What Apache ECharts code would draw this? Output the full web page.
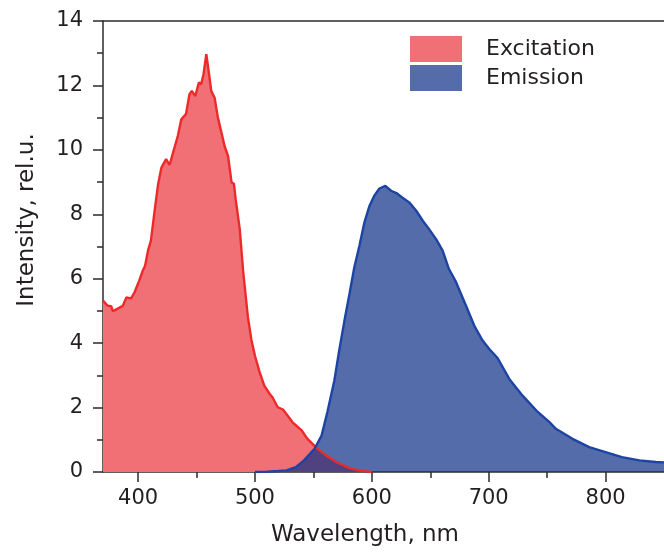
<!DOCTYPE html>
<html>
<head>
<meta charset="utf-8">
<script src="https://cdn.jsdelivr.net/npm/echarts@6/dist/echarts.min.js"></script>
<style>
  html, body { margin: 0; padding: 0; background: #fff; }
  #chart { width: 664px; height: 552px; }
</style>
</head>
<body>
<div id="chart"></div>
<script>
// excitation spectrum (nm, rel.u.)
var excitationNm = [370, 374, 377, 378.5, 381, 387, 390, 394, 397, 401, 404, 406, 408.5, 411, 414, 417,
    420, 424, 427, 430, 434, 437, 441, 444, 446, 449, 452, 454, 456, 458.4, 460.6, 462.6, 465.5,
    468.3, 471, 474, 477, 480, 482, 483.5, 487, 490, 494, 497, 500, 504, 508, 512.5, 515, 519.5,
    524, 528, 532, 540, 545, 552, 561, 569.5, 581, 589, 600];
var excitationVal = [5.32, 5.16, 5.15, 4.99, 5.04, 5.16, 5.42, 5.39, 5.58, 5.94, 6.25, 6.40, 6.87, 7.18, 8.06, 8.9,
    9.45, 9.71, 9.53, 9.92, 10.43, 10.95, 11.11, 11.73, 11.83, 11.67, 12.09, 12.04, 12.35, 12.97, 12.40, 11.83, 11.62,
    11.0, 10.59, 10.12, 9.81, 8.99, 8.95, 8.47, 7.54, 6.2, 4.8, 4.1, 3.61, 3.10, 2.68, 2.43, 2.32, 2.01,
    1.94, 1.75, 1.55, 1.29, 1.03, 0.77, 0.51, 0.31, 0.12, 0.05, 0.0];

// emission spectrum (nm, rel.u.)
var emissionNm = [500, 510, 520, 527, 535, 542, 551, 557, 562, 568, 572, 576.6, 581, 585, 589.4, 593.7,
    598, 602, 606.5, 611.6, 616.5, 621, 626, 632, 638, 643.6, 649, 655, 660.6, 666, 672, 680.6,
    687.7, 694.8, 700.5, 707.6, 717.6, 729, 741, 752, 757.5, 771.7, 786, 800, 814, 829, 843, 850];
var emissionVal = [0, 0.01, 0.03, 0.05, 0.15, 0.36, 0.72, 1.13, 1.86, 2.85, 3.75, 4.7, 5.55, 6.35, 7.02, 7.75,
    8.26, 8.57, 8.80, 8.88, 8.73, 8.66, 8.52, 8.37, 8.11, 7.80, 7.54, 7.23, 6.87, 6.30, 5.9, 5.16,
    4.54, 4.08, 3.82, 3.54, 2.89, 2.37, 1.9, 1.55, 1.34, 1.03, 0.77, 0.62, 0.46, 0.36, 0.31, 0.30];

var xMajorTicks = [400, 500, 600, 700, 800];
var xMinorTicks = [450, 550, 650, 750];

function pairs(xs, ys) {
    return xs.map(function (x, i) { return [x, ys[i]]; });
}

var font = 'DejaVu Sans';
var ink = '#231f20';
var axisLine = { show: true, lineStyle: { color: '#2b2b2b', width: 1.5 } };

var chart = echarts.init(document.getElementById('chart'));

var option = {
    animation: false,
    backgroundColor: '#fff',
    grid: { left: 103, right: 0, top: 21, bottom: 79 },
    legend: {
        orient: 'vertical',
        left: 410,
        top: 36,
        padding: 0,
        itemWidth: 52,
        itemHeight: 26,
        itemGap: 3,
        textStyle: { fontFamily: font, fontSize: 22, color: ink, padding: [0, 0, 0, 19] },
        data: [
            { name: 'Excitation', icon: 'rect', itemStyle: { color: '#f07075', borderWidth: 0 } },
            { name: 'Emission', icon: 'rect', itemStyle: { color: '#546daa', borderWidth: 0 } }
        ]
    },
    xAxis: [
        {
            type: 'value',
            min: 370,
            max: 850,
            name: 'Wavelength, nm',
            nameLocation: 'middle',
            nameGap: 52,
            nameTextStyle: { fontFamily: font, fontSize: 23, color: ink, padding: [0, 37, 0, 0] },
            axisLine: axisLine,
            axisTick: { show: true, length: 10, customValues: xMajorTicks, lineStyle: { color: '#2b2b2b', width: 1.5 } },
            axisLabel: { customValues: xMajorTicks, margin: 16, fontFamily: font, fontSize: 21, color: ink },
            splitLine: { show: false }
        },
        {
            type: 'value',
            min: 370,
            max: 850,
            position: 'bottom',
            axisLine: { show: false },
            axisTick: { show: true, length: 6, customValues: xMinorTicks, lineStyle: { color: '#2b2b2b', width: 1.5 } },
            axisLabel: { show: false, customValues: xMinorTicks },
            splitLine: { show: false }
        },
        {
            type: 'value',
            min: 370,
            max: 850,
            position: 'top',
            axisLine: axisLine,
            axisTick: { show: false },
            axisLabel: { show: false },
            splitLine: { show: false }
        }
    ],
    yAxis: {
        type: 'value',
        min: 0,
        max: 14,
        interval: 2,
        name: 'Intensity, rel.u.',
        nameLocation: 'middle',
        nameGap: 64,
        nameTextStyle: { fontFamily: font, fontSize: 23, color: ink, padding: [0, 0, 0, 53] },
        axisLine: axisLine,
        axisTick: { show: true, length: 10, lineStyle: { color: '#2b2b2b', width: 1.5 } },
        minorTick: { show: true, splitNumber: 2, length: 6, lineStyle: { color: '#2b2b2b', width: 1.5 } },
        axisLabel: { margin: 20, fontFamily: font, fontSize: 21, color: ink },
        splitLine: { show: false }
    },
    series: [
        {
            name: 'Excitation',
            type: 'line',
            xAxisIndex: 0,
            showSymbol: false,
            symbol: 'none',
            lineStyle: { color: '#ec2a2a', width: 2.4 },
            itemStyle: { color: '#f07075' },
            areaStyle: { color: '#f07075', opacity: 1 },
            data: pairs(excitationNm, excitationVal)
        },
        {
            name: 'Emission',
            type: 'line',
            xAxisIndex: 0,
            showSymbol: false,
            symbol: 'none',
            lineStyle: { color: '#1d44a3', width: 2.4 },
            itemStyle: { color: '#546daa' },
            areaStyle: { color: 'rgba(11,46,134,0.7)', opacity: 1 },
            data: pairs(emissionNm, emissionVal)
        }
    ]
};

chart.setOption(option);
</script>
</body>
</html>
